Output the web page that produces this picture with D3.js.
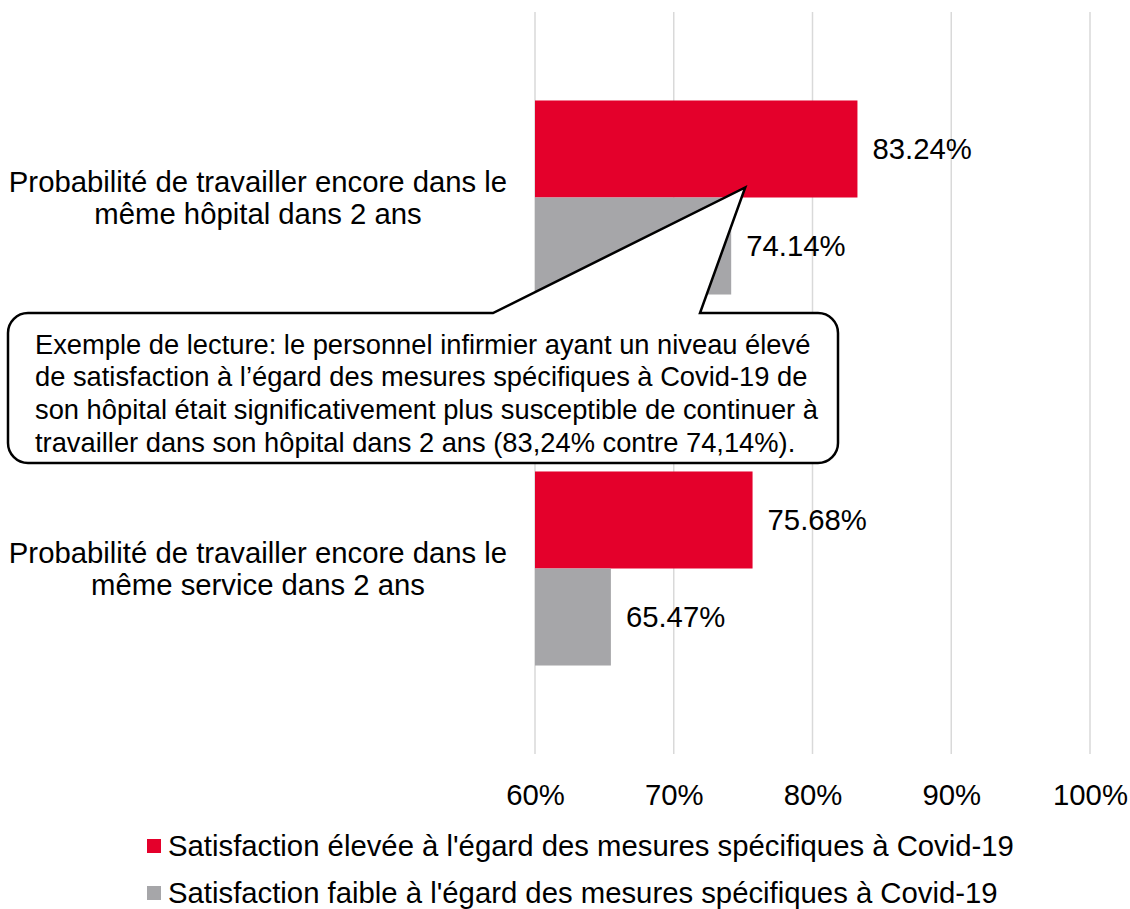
<!DOCTYPE html>
<html>
<head>
<meta charset="utf-8">
<script src="https://cdn.jsdelivr.net/npm/d3@7"></script>
<style>
  body { margin: 0; background: #fff; }
  svg text { font-family: "Liberation Sans", Arial, sans-serif; fill: #000; }
</style>
</head>
<body>
<div id="chart"></div>
<script>

// data
const categories = [
  ["Probabilité de travailler encore dans le", "même hôpital dans 2 ans"],
  ["Probabilité de travailler encore dans le", "même service dans 2 ans"]
];
const seriesNames = [
  "Satisfaction élevée à l'égard des mesures spécifiques à Covid-19",
  "Satisfaction faible à l'égard des mesures spécifiques à Covid-19"
];
const seriesColors = ["#e4002b", "#a6a6a9"];
const highValues = [83.24, 75.68];
const lowValues = [74.14, 65.47];
const xTicks = [60, 70, 80, 90, 100];
const noteLines = [
  "Exemple de lecture: le personnel infirmier ayant un niveau élevé",
  "de satisfaction à l’égard des mesures spécifiques à Covid-19 de",
  "son hôpital était significativement plus susceptible de continuer à",
  "travailler dans son hôpital dans 2 ans (83,24% contre 74,14%)."
];

const width = 1130, height = 909;
const plot = {left: 535, right: 1090, top: 12, bottom: 754};
const fs = "29.3px";

let svg = d3.select("#chart").append("svg")
    .attr("width", width)
    .attr("height", height);

let xscale = d3.scaleLinear().domain([60, 100]).range([plot.left, plot.right]);
let yscale = d3.scaleBand()
    .domain(d3.range(categories.length))
    .range([plot.top, plot.bottom])
    .paddingInner(0.477)
    .paddingOuter(0.2385);
let sub = d3.scaleBand().domain([0, 1]).range([0, yscale.bandwidth()]);

// gridlines
svg.append("g")
  .selectAll("line")
  .data(xTicks)
  .join("line")
    .attr("x1", d => xscale(d)).attr("x2", d => xscale(d))
    .attr("y1", plot.top).attr("y2", plot.bottom)
    .attr("stroke", "#d9d9d9")
    .attr("stroke-width", 1.5);

// x axis labels
let xAxis = d3.axisBottom(xscale).tickValues(xTicks).tickFormat(d => d + "%").tickSize(0).tickPadding(0);
let gx = svg.append("g")
    .attr("transform", "translate(0,795)")
    .call(xAxis);
gx.select(".domain").remove();
gx.selectAll("text")
    .attr("y", 0)
    .attr("dy", "0.35em")
    .style("font-size", fs)
    .style("font-family", "Liberation Sans, Arial, sans-serif")
    .attr("fill", "#000");

// bars
let rows = [];
categories.forEach(function(c, i) {
  rows.push({cat: i, s: 0, v: highValues[i]});
  rows.push({cat: i, s: 1, v: lowValues[i]});
});

svg.append("g")
  .selectAll("rect")
  .data(rows)
  .join("rect")
    .attr("x", xscale(60))
    .attr("y", d => yscale(d.cat) + sub(d.s))
    .attr("width", d => xscale(d.v) - xscale(60))
    .attr("height", sub.bandwidth())
    .attr("fill", d => seriesColors[d.s]);

svg.append("g")
  .selectAll("text")
  .data(rows)
  .join("text")
    .attr("x", d => xscale(d.v) + 15)
    .attr("y", d => yscale(d.cat) + sub(d.s) + sub.bandwidth() / 2)
    .attr("dy", "0.35em")
    .style("font-size", fs)
    .text(d => d.v.toFixed(2) + "%");

// category labels
let cl = svg.append("g")
  .selectAll("text")
  .data(categories)
  .join("text")
    .attr("text-anchor", "middle")
    .style("font-size", fs);
cl.selectAll("tspan")
  .data((d, i) => d.map(t => ({t: t, cy: yscale(i) + yscale.bandwidth() / 2})))
  .join("tspan")
    .attr("x", 258)
    .attr("y", (d, j) => d.cy + (j == 0 ? -16 : 16))
    .attr("dy", "0.35em")
    .text(d => d.t);

// callout with pointer
let box = {x: 8, y: 313, w: 830, h: 150, r: 20};
let tip = {x: xscale(75.15), y: yscale(0) + sub(1) - 10};
let base = [493, 700];
let p = d3.path();
p.moveTo(box.x + box.r, box.y);
p.lineTo(base[0], box.y);
p.lineTo(tip.x, tip.y);
p.lineTo(base[1], box.y);
p.lineTo(box.x + box.w - box.r, box.y);
p.arcTo(box.x + box.w, box.y, box.x + box.w, box.y + box.r, box.r);
p.lineTo(box.x + box.w, box.y + box.h - box.r);
p.arcTo(box.x + box.w, box.y + box.h, box.x + box.w - box.r, box.y + box.h, box.r);
p.lineTo(box.x + box.r, box.y + box.h);
p.arcTo(box.x, box.y + box.h, box.x, box.y + box.h - box.r, box.r);
p.lineTo(box.x, box.y + box.r);
p.arcTo(box.x, box.y, box.x + box.r, box.y, box.r);
p.closePath();

svg.append("path")
    .attr("d", p.toString())
    .attr("fill", "#fff")
    .attr("stroke", "#000")
    .attr("stroke-width", 2.5)
    .attr("stroke-linejoin", "miter");

svg.append("g")
  .selectAll("text")
  .data(noteLines)
  .join("text")
    .attr("x", 35)
    .attr("y", (d, i) => 344 + i * 32.7)
    .attr("dy", "0.35em")
    .style("font-size", "27.3px")
    .text(d => d);

// legend
let lg = svg.append("g")
  .selectAll("g")
  .data(seriesNames)
  .join("g")
    .attr("transform", (d, i) => "translate(147," + (846 + i * 47) + ")");
lg.append("rect")
    .attr("x", 0).attr("y", -7)
    .attr("width", 14).attr("height", 14)
    .attr("fill", (d, i) => seriesColors[i]);
lg.append("text")
    .attr("x", 21)
    .attr("dy", "0.35em")
    .style("font-size", fs)
    .text(d => d);

</script>
</body>
</html>
